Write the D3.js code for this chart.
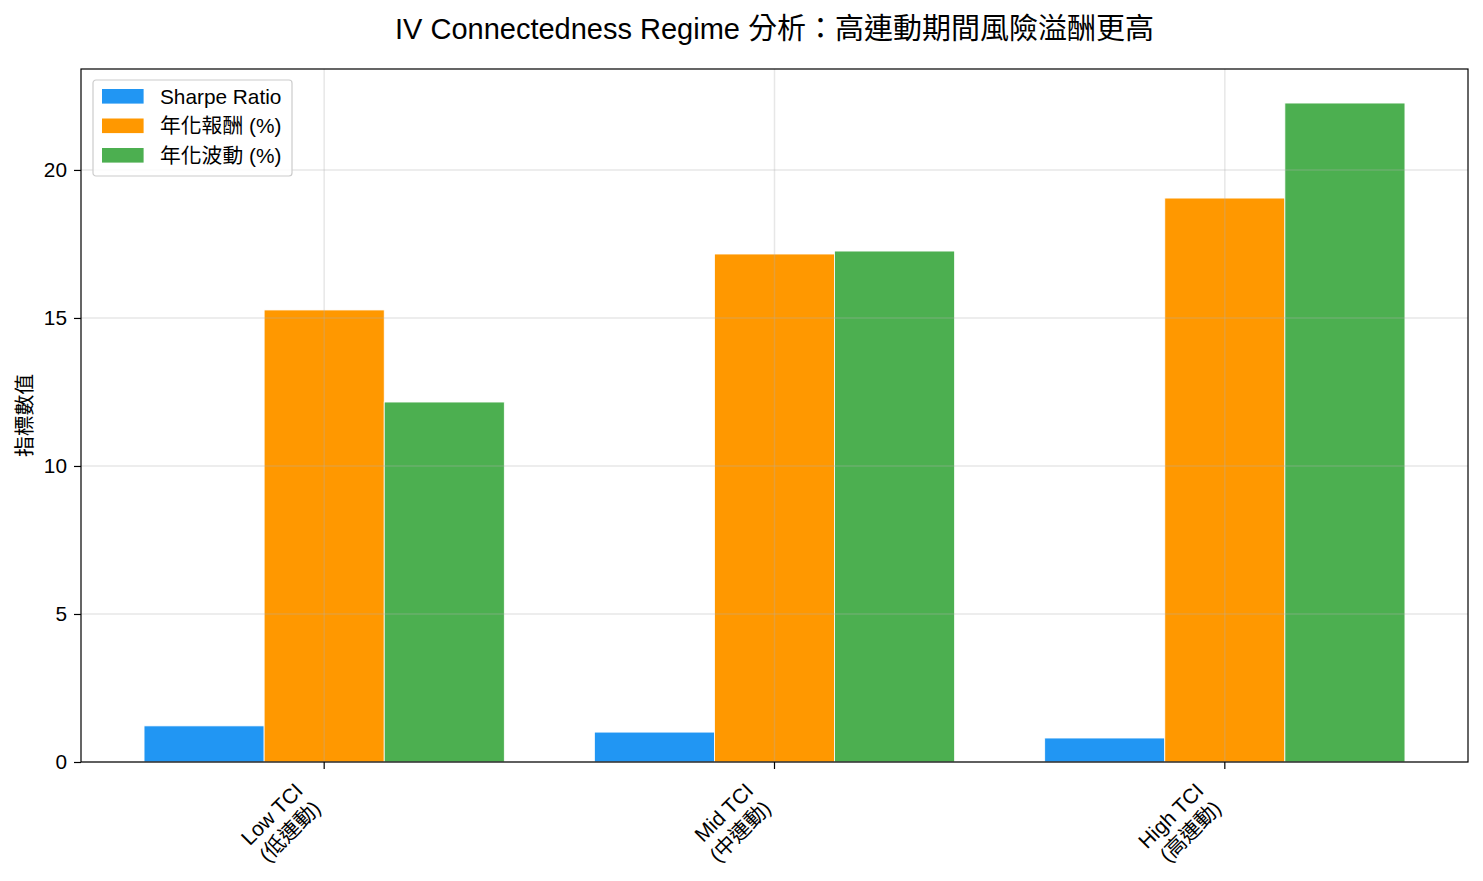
<!DOCTYPE html>
<html lang="zh-Hant">
<head>
<meta charset="UTF-8">
<title>IV Connectedness Regime</title>
<style>
  body { margin: 0; background: #fff; }
  svg text { font-family: "Liberation Sans", "Noto Sans CJK TC", sans-serif; fill: #000; }
</style>
</head>
<body>
<script src="https://cdn.jsdelivr.net/npm/d3@7"></script>
<script>
// data
var categories = ["Low TCI\n(低連動)", "Mid TCI\n(中連動)", "High TCI\n(高連動)"];
var seriesNames = ["Sharpe Ratio", "年化報酬 (%)", "年化波動 (%)"];
var sharpe = [1.22, 1.01, 0.81];
var annReturn = [15.27, 17.16, 19.05];
var annVol = [12.16, 17.26, 22.26];
var yTicks = [0, 5, 10, 15, 20];
var colors = ["#2196F3", "#FF9800", "#4CAF50"];

var series = [sharpe, annReturn, annVol];

var W = 1483, H = 881;
var margin = { top: 69, right: 15, bottom: 119, left: 81 };
var width = W - margin.left - margin.right,
    height = H - margin.top - margin.bottom;
var fs = 20.8; // 10pt at 150 dpi

var svg = d3.select("body").append("svg")
    .attr("width", W)
    .attr("height", H);

var g = svg.append("g")
    .attr("transform", "translate(" + margin.left + "," + margin.top + ")");

// linear x like matplotlib: centers at 0,1,2, bars 0.8 wide in total
var barW = 0.8 / 3;
var x = d3.scaleLinear().domain([-0.54, categories.length - 1 + 0.54]).range([0, width]);
var y = d3.scaleLinear().domain([0, 23.41]).range([height, 0]);

// bars
series.forEach(function (vals, si) {
    g.selectAll(".bar" + si)
        .data(vals)
        .enter().append("rect")
        .attr("x", function (d, i) { return x(i - 0.4 + si * barW); })
        .attr("width", function () { return x(barW) - x(0); })
        .attr("y", function (d) { return y(d); })
        .attr("height", function (d) { return y(0) - y(d); })
        .style("fill", colors[si])
        .style("stroke", "#fff")
        .style("stroke-width", 0.8);
});

// grid on top of the bars (matplotlib default zorder)
g.selectAll(".hgrid")
    .data(yTicks)
    .enter().append("line")
    .attr("x1", 0).attr("x2", width)
    .attr("y1", function (d) { return y(d); })
    .attr("y2", function (d) { return y(d); })
    .style("stroke", "#b0b0b0")
    .style("stroke-opacity", 0.3)
    .style("stroke-width", 1.5);

g.selectAll(".vgrid")
    .data(categories)
    .enter().append("line")
    .attr("y1", 0).attr("y2", height)
    .attr("x1", function (d, i) { return x(i); })
    .attr("x2", function (d, i) { return x(i); })
    .style("stroke", "#b0b0b0")
    .style("stroke-opacity", 0.3)
    .style("stroke-width", 1.5);

// y axis
var yAxis = g.append("g")
    .call(d3.axisLeft(y).tickValues(yTicks).tickSize(7).tickPadding(7));
yAxis.select(".domain").remove();
yAxis.selectAll("line").style("stroke", "#000").style("stroke-width", 1.2);
yAxis.selectAll("text")
    .style("font-size", fs + "px")
    .style("font-family", "\"Liberation Sans\", \"Noto Sans CJK TC\", sans-serif");

// x ticks
var xt = g.append("g").attr("transform", "translate(0," + height + ")");
categories.forEach(function (c, i) {
    xt.append("line")
        .attr("x1", x(i)).attr("x2", x(i))
        .attr("y1", 0).attr("y2", 7)
        .style("stroke", "#000")
        .style("stroke-width", 1.2);
    var lines = c.split("\n");
    var lbl = xt.append("text")
        .attr("transform", "translate(" + (x(i) - 20) + ",30) rotate(-45)")
        .style("text-anchor", "end")
        .style("font-size", fs + "px");
    lines.forEach(function (l, k) {
        lbl.append("tspan").attr("x", 0).attr("y", k * fs * 1.2).text(l);
    });
});

// frame
g.append("rect")
    .attr("width", width).attr("height", height)
    .style("fill", "none")
    .style("stroke", "#000")
    .style("stroke-width", 1.2);

// y label
svg.append("text")
    .attr("transform", "translate(32," + (margin.top + height / 2) + ") rotate(-90)")
    .style("text-anchor", "middle")
    .style("font-size", fs + "px")
    .text("指標數值");

// title
svg.append("text")
    .attr("x", margin.left + width / 2)
    .attr("y", 39)
    .style("text-anchor", "middle")
    .style("font-size", "29px")
    .text("IV Connectedness Regime 分析：高連動期間風險溢酬更高");

// legend
var leg = g.append("g").attr("transform", "translate(12,11)");
leg.append("rect")
    .attr("width", 199).attr("height", 96)
    .attr("rx", 3)
    .style("fill", "#fff")
    .style("fill-opacity", 0.8)
    .style("stroke", "#ccc")
    .style("stroke-width", 1.2);
seriesNames.forEach(function (n, i) {
    leg.append("rect")
        .attr("x", 9).attr("y", 9 + i * 29.5)
        .attr("width", 41.6).attr("height", 14.6)
        .style("fill", colors[i]);
    leg.append("text")
        .attr("x", 67).attr("y", 23.5 + i * 29.5)
        .style("font-size", fs + "px")
        .text(n);
});
</script>
</body>
</html>
